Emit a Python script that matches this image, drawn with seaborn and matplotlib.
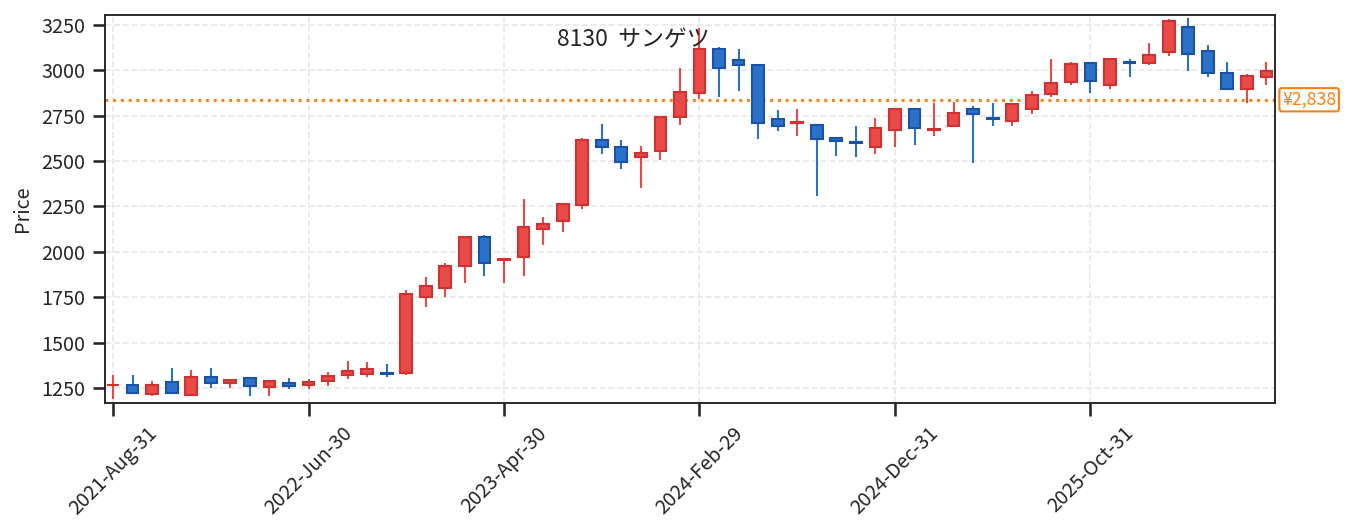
import matplotlib
matplotlib.use("Agg")
import matplotlib.pyplot as plt
import seaborn as sns
import numpy as np
import pandas as pd

title_text = "8130  サンゲツ"
ref_price = 2838
ref_label = "¥2,838"

opens = [1265,1268,1216,1281,1211,1312,1278,1307,1255,1279,
         1265,1289,1320,1327,1331,1333,1752,1801,1922,2084,
         1956,1971,2126,2172,2258,2618,2580,2523,2554,2743,
         2876,3115,3056,3027,2734,2712,2701,2629,2605,2578,
         2672,2789,2673,2692,2789,2738,2720,2785,2868,2936,
         3040,2918,3046,3041,3101,3241,3104,2984,2897,2963]
closes = [1267,1222,1265,1221,1309,1276,1296,1261,1287,1261,
          1285,1318,1342,1353,1328,1770,1814,1923,2084,1939,
          1960,2137,2156,2262,2618,2578,2496,2543,2745,2881,
          3120,3012,3031,2709,2694,2716,2622,2611,2601,2681,
          2785,2683,2679,2767,2760,2734,2817,2864,2932,3035,
          2941,3065,3042,3082,3274,3091,2987,2897,2971,2995]
highs = [1322,1320,1289,1360,1349,1360,1298,1308,1289,1305,
         1298,1338,1399,1393,1382,1790,1862,1936,2086,2091,
         1962,2291,2192,2264,2628,2705,2614,2583,2747,3013,
         3232,3127,3118,3030,2782,2787,2703,2631,2694,2739,
         2787,2791,2820,2827,2802,2820,2819,2886,3061,3046,
         3042,3067,3061,3151,3281,3289,3140,3046,2980,3046]
lows = [1189,1220,1208,1219,1209,1252,1252,1208,1208,1246,
        1246,1263,1301,1312,1312,1323,1698,1753,1830,1869,
        1830,1869,2040,2112,2238,2541,2458,2353,2506,2701,
        2844,2855,2884,2619,2668,2636,2309,2530,2524,2541,
        2576,2590,2636,2690,2488,2695,2695,2761,2855,2921,
        2873,2899,2966,3027,3077,2999,2966,2895,2822,2921]

tick_idx = [0, 10, 20, 30, 40, 50]
tick_labels = ["2021-Aug-31", "2022-Jun-30", "2023-Apr-30",
               "2024-Feb-29", "2024-Dec-31", "2025-Oct-31"]
yticks = [1250, 1500, 1750, 2000, 2250, 2500, 2750, 3000, 3250]

df = pd.DataFrame({"open": opens, "close": closes, "high": highs, "low": lows})
df["x"] = np.arange(len(df))
df["up"] = df["close"] >= df["open"]

sns.set_theme(style="ticks")
plt.rcParams["font.family"] = ["Noto Sans CJK JP", "DejaVu Sans"]

DPI = 150
fig = plt.figure(figsize=(1355 / DPI, 532 / DPI), dpi=DPI)
ax = fig.add_axes([105 / 1355, 129 / 532, 1170 / 1355, 388 / 532])

up_face, up_edge = "#e84a4a", "#d03232"
dn_face, dn_edge = "#2a72c8", "#1a52a8"

for up, face, edge in [(True, up_face, up_edge), (False, dn_face, dn_edge)]:
    d = df[df["up"] == up]
    ax.vlines(d["x"], d["low"], d["high"], color=face, lw=1.0, zorder=2)
    body_bot = np.minimum(d["open"], d["close"])
    body_h = np.maximum((d["close"] - d["open"]).abs(), 3)
    ax.bar(d["x"], body_h, bottom=body_bot, width=0.6, color=face,
           edgecolor=edge, linewidth=1.0, zorder=3)

ax.axhline(ref_price, color="#ff7f0e", ls=":", lw=1.4, zorder=1.5)
ax.text(1.006, ref_price, ref_label, transform=ax.get_yaxis_transform(),
        ha="left", va="center", fontsize=8.5, color="#ff7f0e",
        bbox=dict(boxstyle="round,pad=0.15", fc="white", ec="#ff7f0e", lw=1.0))

ax.set_xlim(-0.41, 59.44)
ax.set_ylim(1167, 3305)
ax.set_xticks(tick_idx)
ax.set_xticklabels(tick_labels, rotation=45, fontsize=9.5)
ax.set_yticks(yticks)
ax.tick_params(axis="y", labelsize=9.5)
ax.set_ylabel("Price", fontsize=9.5)
ax.grid(True, ls="--", color="#e8e8e8", lw=0.8)
ax.set_axisbelow(True)
for s in ax.spines.values():
    s.set_color("#222222")
    s.set_linewidth(0.9)

fig.text(633 / 1355, 1 - 40 / 532, title_text, ha="center", va="center", fontsize=11)

fig.savefig("out.png", dpi=DPI)
